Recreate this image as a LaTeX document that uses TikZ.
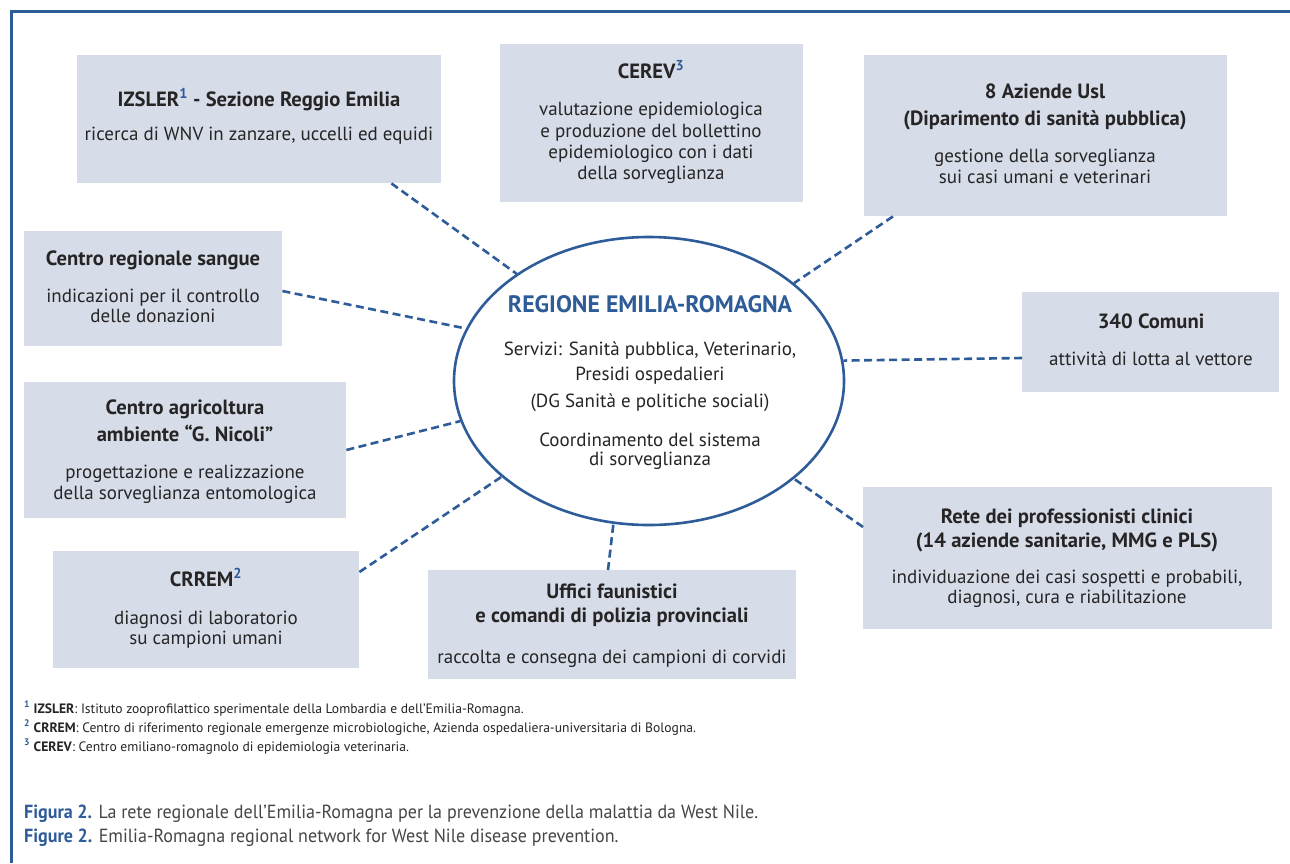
\documentclass[tikz,border=0pt]{standalone}
\usepackage{fontspec}
\setmainfont{PT Sans}
\newfontfamily\capfont[FakeStretch=0.95]{PT Sans}
\usetikzlibrary{shapes.geometric,calc}
\definecolor{frameblue}{RGB}{46,92,153}
\definecolor{boxfill}{RGB}{214,221,233}
\definecolor{txt}{RGB}{38,36,37}
\definecolor{captxt}{RGB}{70,70,70}
\newcommand{\supnum}[1]{\textsuperscript{\color{frameblue}#1}}
\begin{document}
\begin{tikzpicture}[x=1pt,y=-1pt,
  box/.style={fill=boxfill,draw=none,inner sep=0pt,anchor=north west},
  ttl/.style={anchor=base,inner sep=0pt,text=txt,font=\fontsize{20.6}{24}\selectfont\bfseries},
  body/.style={anchor=base,inner sep=0pt,text=txt,font=\fontsize{19}{22}\selectfont},
  conn/.style={draw=frameblue,line width=2.6pt,dash pattern=on 8pt off 4.5pt},
  note/.style={anchor=base west,inner sep=0pt,text=txt,font=\fontsize{13.6}{16}\selectfont},
  captionline/.style={anchor=base west,inner sep=0pt,text=captxt,font=\capfont\fontsize{19}{22}\selectfont}]
\useasboundingbox (0,0) rectangle (1290,863);
\fill[white] (0,0) rectangle (1290,863);

% outer frame (top and left edges)
\draw[frameblue,line width=3pt] (1290,11.5) -- (11,11.5) -- (11,863);

% boxes
\node[box,minimum width=364pt,minimum height=128pt] (izs) at (77,55) {};
\node[box,minimum width=303pt,minimum height=158pt] (cer) at (500,44) {};
\node[box,minimum width=363pt,minimum height=161pt] (azi) at (864,55) {};
\node[box,minimum width=258pt,minimum height=115pt] (san) at (24,231) {};
\node[box,minimum width=257pt,minimum height=100pt] (com) at (1022,292) {};
\node[box,minimum width=322pt,minimum height=136pt] (agr) at (24,382) {};
\node[box,minimum width=409pt,minimum height=142pt] (ret) at (863,487) {};
\node[box,minimum width=306pt,minimum height=117pt] (crr) at (53,551) {};
\node[box,minimum width=368pt,minimum height=109pt] (uff) at (428,570) {};

% central ellipse
\node[ellipse,draw=frameblue,line width=2.6pt,fill=white,minimum width=390pt,minimum height=288pt,inner sep=0pt] (reg) at (649,381) {};

% connectors
\draw[conn] ($(izs.south east)+(-50,0)$) -- (reg.141.7);
\draw[conn] ($(azi.south west)+(29,0)$) -- (reg.34.8);
\draw[conn] ($(san.north east)+(0,60)$) -- (reg.164.7);
\draw[conn] ($(com.north west)+(0,66)$) -- (reg.6.8);
\draw[conn] ($(agr.north east)+(0,68)$) -- (reg.192.1);
\draw[conn] ($(crr.north east)+(0,21)$) -- (reg.213.4);
\draw[conn] ($(uff.north west)+(180,0)$) -- (reg.256.4);
\draw[conn] ($(ret.north west)+(0,40)$) -- (reg.326.9);

% texts in boxes
\node[ttl] (izs-t) at (259,106) {IZSLER\supnum{1} - Sezione Reggio Emilia};
\node[body] (izs-1) at (259,140) {ricerca di WNV in zanzare, uccelli ed equidi};

\node[ttl] (cer-t) at (651,78) {CEREV\supnum{3}};
\node[body] (cer-1) at (651,115) {valutazione epidemiologica};
\node[body] (cer-2) at (651,137) {e produzione del bollettino};
\node[body] (cer-3) at (651,158) {epidemiologico con i dati};
\node[body] (cer-4) at (651,179) {della sorveglianza};

\node[ttl] (azi-t1) at (1045,98) {8 Aziende Usl};
\node[ttl] (azi-t2) at (1045,125) {(Diparimento di sanità pubblica)};
\node[body] (azi-1) at (1045,162) {gestione della sorveglianza};
\node[body] (azi-2) at (1045,183) {sui casi umani e veterinari};

\node[ttl] (san-t) at (153,265) {Centro regionale sangue};
\node[body] (san-1) at (153,302) {indicazioni per il controllo};
\node[body] (san-2) at (153,322) {delle donazioni};

\node[ttl] (com-t) at (1151,328) {340 Comuni};
\node[body] (com-1) at (1151,365) {attività di lotta al vettore};

\node[ttl] (agr-t1) at (185,414) {Centro agricoltura};
\node[ttl] (agr-t2) at (185,441) {ambiente “G. Nicoli”};
\node[body] (agr-1) at (185,478) {progettazione e realizzazione};
\node[body] (agr-2) at (185,499) {della sorveglianza entomologica};

\node[ttl] (crr-t) at (206,586) {CRREM\supnum{2}};
\node[body] (crr-1) at (206,624) {diagnosi di laboratorio};
\node[body] (crr-2) at (206,644) {su campioni umani};

\node[ttl] (uff-t1) at (612,598) {Uffici faunistici};
\node[ttl] (uff-t2) at (612,622) {e comandi di polizia provinciali};
\node[body] (uff-1) at (612,663) {raccolta e consegna dei campioni di corvidi};

\node[ttl] (ret-t1) at (1067,523) {Rete dei professionisti clinici};
\node[ttl] (ret-t2) at (1067,547) {(14 aziende sanitarie, MMG e PLS)};
\node[body] (ret-1) at (1067,583) {individuazione dei casi sospetti e probabili,};
\node[body] (ret-2) at (1067,603) {diagnosi, cura e riabilitazione};

% texts in the ellipse
\node[ttl,text=frameblue,font=\fontsize{23.8}{28}\selectfont\bfseries] (reg-t) at (650,312) {REGIONE EMILIA-ROMAGNA};
\node[body] (reg-1) at (650,355) {Servizi: Sanità pubblica, Veterinario,};
\node[body] (reg-2) at (650,380) {Presidi ospedalieri};
\node[body] (reg-3) at (650,407) {(DG Sanità e politiche sociali)};
\node[body] (reg-4) at (650,446) {Coordinamento del sistema};
\node[body] (reg-5) at (650,465) {di sorveglianza};

% footnotes
\node[note] (fn1) at (24,713) {\supnum{\bfseries 1} \textbf{IZSLER}: Istituto zooprofilattico sperimentale della Lombardia e dell’Emilia-Romagna.};
\node[note] (fn2) at (24,732) {\supnum{\bfseries 2} \textbf{CRREM}: Centro di riferimento regionale emergenze microbiologiche, Azienda ospedaliera-universitaria di Bologna.};
\node[note] (fn3) at (24,751) {\supnum{\bfseries 3} \textbf{CEREV}: Centro emiliano-romagnolo di epidemiologia veterinaria.};

% caption
\node[captionline] (cap1) at (24,818) {\textcolor{frameblue}{\bfseries Figura 2.} La rete regionale dell’Emilia-Romagna per la prevenzione della malattia da West Nile.};
\node[captionline] (cap2) at (24,842) {\textcolor{frameblue}{\bfseries Figure 2.} Emilia-Romagna regional network for West Nile disease prevention.};
\end{tikzpicture}
\end{document}
